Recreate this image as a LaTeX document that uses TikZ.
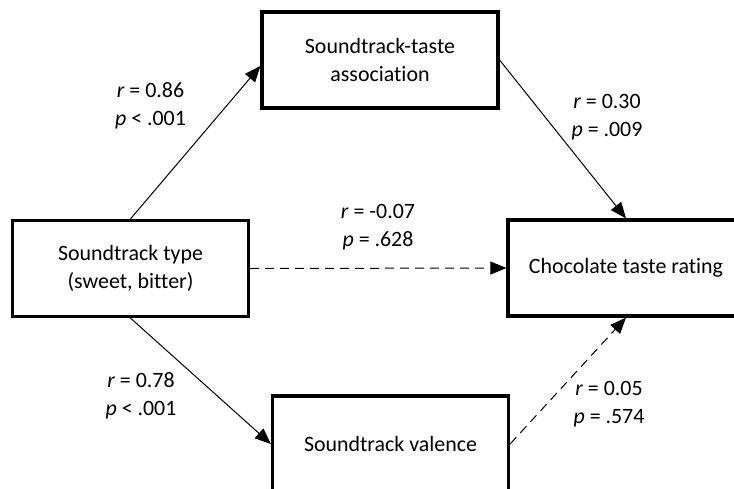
\documentclass[tikz,border=0pt]{standalone}
\usepackage{fontspec}
\setmainfont{Carlito}[Ligatures=NoCommon]
\usetikzlibrary{arrows.meta}
\begin{document}
\begin{tikzpicture}[x=1pt,y=-1pt,
  txt/.style={font=\fontsize{21.9}{27.5}\selectfont},
  box/.style={txt, draw, line width=3.2pt, minimum width=236pt, minimum height=96pt, inner sep=0pt, align=center},
  lab/.style={txt, align=center, inner sep=0pt},
  conn/.style={line width=1pt, -{Triangle[length=16pt,width=13pt]}},
  dconn/.style={conn, dash pattern=on 9pt off 6pt}]
\useasboundingbox (0,0) rectangle (734,488);
\fill[white] (0,0) rectangle (734,488);
\clip (0,0) rectangle (734,488);
\node[box] (T) at (380,60) {Soundtrack-taste\\association};
\node[box] (L) at (130.5,268.5) {Soundtrack type\\(sweet, bitter)};
\node[box] (R) at (626,268) {Chocolate taste rating};
\node[box] (B) at (390.5,444) {Soundtrack valence};
\draw[conn] (L.north) -- ([yshift=-6pt]T.west);
\draw[conn] (T.east) -- (R.north);
\draw[conn] (L.south) -- (B.west);
\draw[dconn] (B.east) -- (R.south);
\draw[dconn] (L.east) -- (R.west);
\node[lab] (l1) at (150.5,106) {\textit{r} = 0.86\\\textit{p} < .001};
\node[lab] (l2) at (607,117) {\textit{r} = 0.30\\\textit{p} = .009};
\node[lab] (l3) at (378,227) {\textit{r} = -0.07\\\textit{p} = .628};
\node[lab] (l4) at (141,396) {\textit{r} = 0.78\\\textit{p} < .001};
\node[lab] (l5) at (609,404) {\textit{r} = 0.05\\\textit{p} = .574};
\end{tikzpicture}
\end{document}
